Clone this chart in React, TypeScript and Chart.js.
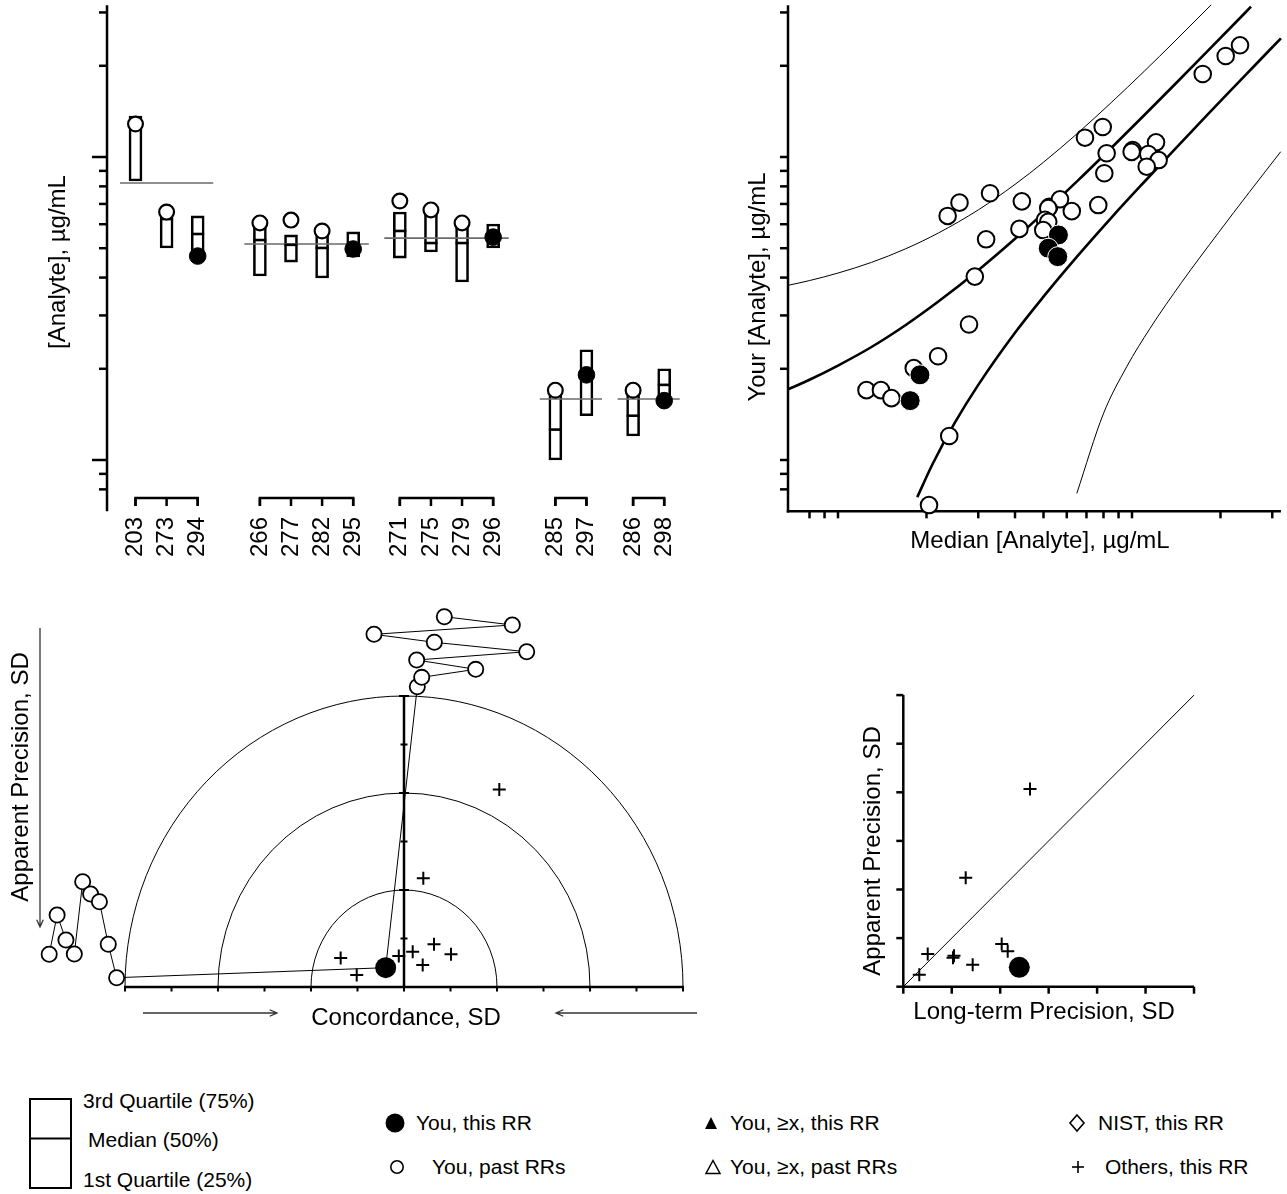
import React, { useEffect, useRef } from "react";
import { Chart, registerables } from "chart.js";

Chart.register(...registerables);

const FONT_FAMILY = '"Liberation Sans", Arial, Helvetica, sans-serif';
const AXIS_FONT = `24px ${FONT_FAMILY}`;

// ================= Panel 1 : box plots per lab =================
const labGroups: string[][] = [
  ["203", "273", "294"],
  ["266", "277", "282", "295"],
  ["271", "275", "279", "296"],
  ["285", "297"],
  ["286", "298"],
];
const q1Values = [8.33, 5.01, 4.86, 4.05, 4.5, 3.99, 4.68, 4.64, 4.86, 3.87, 5.01, 1.0, 1.4, 1.2, 1.52];
const medianValues = [12.85, 6.24, 5.57, 5.32, 5.13, 5.01, 5.13, 5.7, 5.2, 5.2, 5.49, 1.26, 1.91, 1.4, 1.77];
const q3Values = [13.65, 6.84, 6.39, 5.92, 5.53, 5.57, 5.66, 6.58, 6.53, 5.92, 6.01, 1.66, 2.31, 1.66, 2.0];
const yourValues = [12.85, 6.58, 4.71, 6.06, 6.19, 5.7, 4.97, 7.16, 6.69, 6.06, 5.44, 1.7, 1.91, 1.7, 1.57];
const thisRoundLabs = ["294", "295", "296", "297", "298"];
const consensusValues = [8.21, 5.16, 5.4, 1.59, 1.59];
const logMajorTicks = [1, 10];
const logMinorTicks = [0.8, 0.9, 2, 3, 4, 5, 6, 7, 8, 9, 20, 30];
const logAxisRange = [0.677, 31.7];

// ================= Panel 2 : your value vs median =================
const pastMedians = [2.36, 2.59, 3.29, 4.22, 3.19, 4.14, 2.92, 5.23, 5.69, 6.24, 5.19, 5.06, 5.19, 4.99, 7.68, 6.92, 7.95, 8.2, 8.05, 10.05, 9.97, 12.07, 11.36, 12.32, 11.22, 17.4, 20.83, 23.3, 1.25, 1.4, 1.52, 1.81, 2.19, 2.79, 2.39, 2.04];
const pastYours = [6.39, 7.07, 7.59, 7.14, 5.35, 5.79, 4.03, 6.85, 7.25, 6.63, 6.78, 6.2, 6.11, 5.74, 6.94, 11.58, 12.56, 10.29, 8.84, 10.55, 10.4, 11.18, 10.23, 9.77, 9.29, 18.79, 21.54, 23.37, 1.7, 1.7, 1.6, 2.01, 2.2, 2.8, 1.2, 0.71];
const thisMedians = [5.62, 5.19, 5.59, 1.9, 1.76];
const thisYours = [5.53, 5.0, 4.69, 1.91, 1.57];
const upperThickX = [0.676, 0.8, 1, 1.3, 1.7, 2.2, 3, 4, 5, 6.5, 8.5, 11, 14, 18, 22, 25.4];
const upperThickY = [1.71, 1.84, 2.05, 2.36, 2.79, 3.34, 4.23, 5.37, 6.54, 8.31, 10.71, 13.73, 17.38, 22.26, 27.16, 31.34];
const lowerThickX = [1.86, 2.1, 2.5, 3, 4, 5, 6.5, 8.5, 11, 14, 18, 22, 26, 32.1];
const lowerThickY = [0.754, 0.972, 1.33, 1.77, 2.63, 3.46, 4.69, 6.3, 8.27, 10.62, 13.74, 16.84, 19.93, 24.65];
const upperThinX = [0.676, 0.8, 1, 1.3, 1.7, 2.2, 3, 4, 5, 6.5, 8.5, 11, 14, 18.6];
const upperThinY = [3.77, 3.91, 4.14, 4.49, 4.98, 5.62, 6.69, 8.12, 9.61, 11.93, 15.12, 19.18, 24.13, 31.79];
const lowerThinX = [6.49, 7.99, 9.59, 11.52, 14.76, 19.72, 25, 32.05];
const lowerThinY = [0.776, 1.42, 2.03, 2.72, 3.86, 5.64, 7.63, 10.41];
const logTickValues = [0.8, 0.9, 1, 2, 3, 4, 5, 6, 7, 8, 9, 10, 20, 30];
const p2XAxisRange = [0.676, 32.1];

// ================= Panels 3 & 4 : precision =================
const othersApparent = [4.07, 2.24, 0.674, 0.639, 0.598, 0.454, 0.88, 0.728, 0.247];
const othersConcordance = [2.049, 0.415, 1.011, -0.112, -1.362, 0.402, 0.645, 0.187, -1.017];
const othersLongTerm = [2.615, 1.288, 0.504, 1.046, 1.026, 1.432, 2.031, 2.155, 0.33];
const youApparent = 0.398;
const youConcordance = -0.394;
const youLongTerm = 2.394;
const pastLeftConcordance = [-7.63, -7.46, -7.27, -7.09, -6.91, -6.74, -6.55, -6.36, -6.18];
const pastLeftApparent = [0.674, 1.485, 0.969, 0.68, 2.171, 1.918, 1.759, 0.88, 0.192];
const pastTopConcordance = [0.286, 0.381, 1.542, 0.273, 2.639, 0.652, -0.645, 2.329, 0.867];
const pastTopApparent = [6.19, 6.385, 6.55, 6.742, 6.913, 7.107, 7.272, 7.464, 7.635];
const arcRadii = [2, 4, 6];
const concordanceTicks = [-6, -5, -4, -3, -2, -1, 0, 1, 2, 3, 4, 5, 6];
const apparentTicks = [1, 2, 3, 4, 5, 6];
const precisionTicks = [0, 1, 2, 3, 4, 5, 6];
const identityLine = [0, 6];

// ================= Layout (page pixel calibration) =================
type Geo = { left: number; top: number; width: number; height: number };
const P1_GEO: Geo = { left: 0, top: 0, width: 720, height: 580 };
const P2_GEO: Geo = { left: 720, top: 0, width: 567, height: 580 };
const P3_GEO: Geo = { left: 0, top: 580, width: 720, height: 470 };
const P4_GEO: Geo = { left: 720, top: 580, width: 567, height: 470 };
const P1_X_ORIGIN = 135.5, P1_X_UNIT = 31.1, P1_AXIS_X = -0.916;
const LOG_Y_ONE = 460, LOG_Y_DECADE = 303;
const P2_X_ONE = 838, P2_X_DECADE = 294;
const P3_X_ZERO = 404, P3_X_UNIT = 46.5, P3_Y_ZERO = 987, P3_Y_UNIT = 48.5;
const P4_X_ZERO = 903.3, P4_X_UNIT = 48.45, P4_Y_ZERO = 986.7, P4_Y_UNIT = 48.6;

const linX = (g: Geo, z: number, u: number) => ({ min: (g.left - z) / u, max: (g.left + g.width - z) / u });
const linY = (g: Geo, z: number, u: number) => ({ min: (z - g.top - g.height) / u, max: (z - g.top) / u });
const logX = (g: Geo, one: number, d: number) => ({ min: 10 ** ((g.left - one) / d), max: 10 ** ((g.left + g.width - one) / d) });
const logY = (g: Geo, one: number, d: number) => ({ min: 10 ** ((one - g.top - g.height) / d), max: 10 ** ((one - g.top) / d) });

// ================= Drawing helpers =================
function seg(ctx: CanvasRenderingContext2D, x1: number, y1: number, x2: number, y2: number, w: number, color = "#000") {
  ctx.save();
  ctx.beginPath();
  ctx.moveTo(x1, y1);
  ctx.lineTo(x2, y2);
  ctx.lineWidth = w;
  ctx.strokeStyle = color;
  ctx.stroke();
  ctx.restore();
}

function txt(ctx: CanvasRenderingContext2D, s: string, x: number, y: number, rotate = false, align: CanvasTextAlign = "center") {
  ctx.save();
  ctx.font = AXIS_FONT;
  ctx.fillStyle = "#000";
  ctx.textAlign = align;
  ctx.textBaseline = "middle";
  ctx.translate(x, y);
  if (rotate) ctx.rotate(-Math.PI / 2);
  ctx.fillText(s, 0, 0);
  ctx.restore();
}

function arrow(ctx: CanvasRenderingContext2D, x1: number, y1: number, x2: number, y2: number) {
  const a = Math.atan2(y2 - y1, x2 - x1);
  const L = 8, W = 0.42;
  ctx.save();
  ctx.strokeStyle = "#333";
  ctx.lineWidth = 1.3;
  ctx.beginPath();
  ctx.moveTo(x1, y1);
  ctx.lineTo(x2, y2);
  ctx.moveTo(x2 - L * Math.cos(a - W), y2 - L * Math.sin(a - W));
  ctx.lineTo(x2, y2);
  ctx.lineTo(x2 - L * Math.cos(a + W), y2 - L * Math.sin(a + W));
  ctx.stroke();
  ctx.restore();
}

function baseOptions(xs: any, ys: any) {
  return {
    responsive: false,
    maintainAspectRatio: false,
    animation: false,
    events: [],
    layout: { padding: 0, autoPadding: false },
    plugins: { legend: { display: false }, tooltip: { enabled: false }, title: { display: false } },
    scales: {
      x: { ...xs, display: false, bounds: "data", offset: false },
      y: { ...ys, display: false, bounds: "data", offset: false },
    },
  };
}

// ================= Panel 1 config =================
const labIds = labGroups.flat();
const labPos: number[] = [];
const groupSpans: [number, number][] = [];
{
  const groupGaps = [2, 1.5, 2, 1.5];
  let p = 0;
  labGroups.forEach((g, gi) => {
    const start = p;
    g.forEach(() => {
      labPos.push(p);
      p += 1;
    });
    groupSpans.push([start, p - 1]);
    p += (groupGaps[gi] ?? 0) - 1;
  });
}

function panel1Config() {
  const isThis = labIds.map((l) => thisRoundLabs.includes(l));
  const refData: any[] = [];
  groupSpans.forEach(([a, b], gi) => {
    refData.push({ x: a - 0.5, y: consensusValues[gi] });
    refData.push({ x: b + 0.5, y: consensusValues[gi] });
    refData.push({ x: b + 0.6, y: null });
  });
  const plugin = {
    id: "p1deco",
    beforeDatasetsDraw(chart: any) {
      const { ctx } = chart;
      const { x, y } = chart.scales;
      const ax = x.getPixelForValue(P1_AXIS_X);
      seg(ctx, ax, y.getPixelForValue(logAxisRange[1]), ax, y.getPixelForValue(logAxisRange[0]), 2.5);
      logMinorTicks.forEach((v) => {
        const py = y.getPixelForValue(v);
        seg(ctx, ax - 8, py, ax, py, 2.5);
      });
      logMajorTicks.forEach((v) => {
        const py = y.getPixelForValue(v);
        seg(ctx, ax - 15, py, ax, py, 2.5);
      });
      const BY = 498 - P1_GEO.top;
      ctx.save();
      ctx.strokeStyle = "#000";
      ctx.lineWidth = 2.5;
      groupSpans.forEach(([a, b]) => {
        const xa = x.getPixelForValue(a), xb = x.getPixelForValue(b);
        ctx.beginPath();
        ctx.moveTo(xa, BY + 8);
        ctx.lineTo(xa, BY);
        ctx.lineTo(xb, BY);
        ctx.lineTo(xb, BY + 8);
        ctx.stroke();
      });
      labPos.forEach((p) => {
        const px = x.getPixelForValue(p);
        seg(ctx, px, BY, px, BY + 8, 2.5);
      });
      ctx.restore();
    },
    afterDatasetsDraw(chart: any) {
      const { ctx } = chart;
      const { x } = chart.scales;
      labIds.forEach((l, i) => {
        txt(ctx, l, x.getPixelForValue(labPos[i]), 517 - P1_GEO.top, true, "right");
      });
      txt(ctx, "[Analyte], µg/mL", 58 - P1_GEO.left, 262 - P1_GEO.top, true);
    },
  };
  return {
    type: "bar",
    data: {
      datasets: [
        {
          type: "bar",
          label: "Quartiles",
          data: labPos.map((x, i) => ({ x, y: [q1Values[i], q3Values[i]] })),
          backgroundColor: "#fff",
          borderColor: "#000",
          borderWidth: 2.6,
          borderSkipped: false,
          barThickness: 13,
          order: 5,
        },
        {
          type: "line",
          label: "Consensus",
          data: refData,
          borderColor: "#6b6b6b",
          borderWidth: 1.6,
          pointRadius: 0,
          showLine: true,
          spanGaps: false,
          order: 4,
        },
        {
          type: "scatter",
          label: "Median",
          data: labPos.map((x, i) => ({ x, y: medianValues[i] })),
          pointStyle: "line",
          pointRadius: 6.5,
          pointBorderColor: "#000",
          pointBorderWidth: 2.6,
          showLine: false,
          order: 3,
        },
        {
          type: "scatter",
          label: "You, past RRs",
          data: labPos.map((x, i) => ({ x, y: yourValues[i] })).filter((_, i) => !isThis[i]),
          pointRadius: 7.4,
          pointBackgroundColor: "#fff",
          pointBorderColor: "#000",
          pointBorderWidth: 2.2,
          showLine: false,
          order: 2,
        },
        {
          type: "scatter",
          label: "You, this RR",
          data: labPos.map((x, i) => ({ x, y: yourValues[i] })).filter((_, i) => isThis[i]),
          pointRadius: 8.3,
          pointBackgroundColor: "#000",
          pointBorderColor: "#000",
          pointBorderWidth: 1,
          showLine: false,
          order: 1,
        },
      ],
    },
    options: baseOptions(
      { type: "linear", ...linX(P1_GEO, P1_X_ORIGIN, P1_X_UNIT) },
      { type: "logarithmic", ...logY(P1_GEO, LOG_Y_ONE, LOG_Y_DECADE) }
    ),
    plugins: [plugin],
  };
}

// ================= Panel 2 config =================
function curve(xs: number[], ys: number[], width: number, label: string) {
  return {
    type: "line",
    label,
    data: xs.map((x, i) => ({ x, y: ys[i] })),
    borderColor: "#000",
    borderWidth: width,
    pointRadius: 0,
    showLine: true,
    cubicInterpolationMode: "monotone",
    order: 4,
  };
}

function panel2Config() {
  const plugin = {
    id: "p2deco",
    beforeDatasetsDraw(chart: any) {
      const { ctx } = chart;
      const { x, y } = chart.scales;
      const ax = x.getPixelForValue(p2XAxisRange[0]);
      const ay = y.getPixelForValue(logAxisRange[0]);
      seg(ctx, ax, y.getPixelForValue(logAxisRange[1]), ax, ay + 1.25, 2.5);
      seg(ctx, ax - 1.25, ay, x.getPixelForValue(p2XAxisRange[1]), ay, 2.5);
      logTickValues.forEach((v) => {
        const py = y.getPixelForValue(v);
        seg(ctx, ax - 8, py, ax, py, 2.5);
        const px = x.getPixelForValue(v);
        seg(ctx, px, ay, px, ay + 7, 2.5);
      });
    },
    afterDatasetsDraw(chart: any) {
      const { ctx } = chart;
      txt(ctx, "Your [Analyte], µg/mL", 758 - P2_GEO.left, 287 - P2_GEO.top, true);
      txt(ctx, "Median [Analyte], µg/mL", 1040 - P2_GEO.left, 541 - P2_GEO.top);
    },
  };
  return {
    type: "scatter",
    data: {
      datasets: [
        curve(upperThinX, upperThinY, 1, "Upper outer limit"),
        curve(lowerThinX, lowerThinY, 1, "Lower outer limit"),
        curve(upperThickX, upperThickY, 2.6, "Upper limit"),
        curve(lowerThickX, lowerThickY, 2.6, "Lower limit"),
        {
          type: "scatter",
          label: "You, past RRs",
          data: pastMedians.map((x, i) => ({ x, y: pastYours[i] })),
          pointRadius: 8.3,
          pointBackgroundColor: "#fff",
          pointBorderColor: "#000",
          pointBorderWidth: 2,
          showLine: false,
          order: 2,
        },
        {
          type: "scatter",
          label: "You, this RR",
          data: thisMedians.map((x, i) => ({ x, y: thisYours[i] })),
          pointRadius: 10,
          pointBackgroundColor: "#000",
          pointBorderColor: "#fff",
          pointBorderWidth: 1,
          showLine: false,
          order: 1,
        },
      ],
    },
    options: baseOptions(
      { type: "logarithmic", ...logX(P2_GEO, P2_X_ONE, P2_X_DECADE) },
      { type: "logarithmic", ...logY(P2_GEO, LOG_Y_ONE, LOG_Y_DECADE) }
    ),
    plugins: [plugin],
  };
}

// ================= Panel 3 config =================
function panel3Config() {
  const leftData = pastLeftConcordance.map((x, i) => ({ x, y: pastLeftApparent[i] }));
  leftData.push({ x: youConcordance, y: youApparent });
  const topData = [{ x: youConcordance, y: youApparent }].concat(
    pastTopConcordance.map((x, i) => ({ x, y: pastTopApparent[i] }))
  );
  const nLeft = leftData.length - 1;
  const plugin = {
    id: "p3deco",
    beforeDatasetsDraw(chart: any) {
      const { ctx } = chart;
      const { x, y } = chart.scales;
      const cx = x.getPixelForValue(0), cy = y.getPixelForValue(0);
      ctx.save();
      ctx.strokeStyle = "#000";
      ctx.lineWidth = 1;
      arcRadii.forEach((r) => {
        const rx = x.getPixelForValue(r) - cx;
        const ry = cy - y.getPixelForValue(r);
        ctx.beginPath();
        ctx.ellipse(cx, cy, rx, ry, 0, Math.PI, 2 * Math.PI);
        ctx.stroke();
      });
      ctx.restore();
      const xl = x.getPixelForValue(concordanceTicks[0]);
      const xr = x.getPixelForValue(concordanceTicks[concordanceTicks.length - 1]);
      seg(ctx, xl - 1, cy, xr + 1, cy, 2.5);
      concordanceTicks.forEach((v) => {
        const px = x.getPixelForValue(v);
        seg(ctx, px, cy, px, cy + 4.5, 2);
      });
      const top = y.getPixelForValue(apparentTicks[apparentTicks.length - 1]);
      seg(ctx, cx, cy, cx, top, 2.5);
      apparentTicks.forEach((v) => {
        const py = y.getPixelForValue(v);
        const w = v % 2 === 0 ? 5 : 3.5;
        seg(ctx, cx - w, py, cx + w, py, 2);
      });
    },
    afterDatasetsDraw(chart: any) {
      const { ctx } = chart;
      const ox = P3_GEO.left, oy = P3_GEO.top;
      txt(ctx, "Apparent Precision, SD", 21 - ox, 777 - oy, true);
      txt(ctx, "Concordance, SD", 406 - ox, 1018 - oy);
      arrow(ctx, 40 - ox, 628 - oy, 40 - ox, 927 - oy);
      arrow(ctx, 143 - ox, 1013 - oy, 277 - ox, 1013 - oy);
      arrow(ctx, 697 - ox, 1013 - oy, 556 - ox, 1013 - oy);
    },
  };
  return {
    type: "scatter",
    data: {
      datasets: [
        {
          type: "line",
          label: "You, past RRs (a)",
          data: leftData,
          borderColor: "#000",
          borderWidth: 1,
          showLine: true,
          pointRadius: (c: any) => (c.dataIndex === nLeft ? 0 : 7.6),
          pointBackgroundColor: "#fff",
          pointBorderColor: "#000",
          pointBorderWidth: 1.8,
          order: 4,
        },
        {
          type: "line",
          label: "You, past RRs (b)",
          data: topData,
          borderColor: "#000",
          borderWidth: 1,
          showLine: true,
          pointRadius: (c: any) => (c.dataIndex === 0 ? 0 : 7.6),
          pointBackgroundColor: "#fff",
          pointBorderColor: "#000",
          pointBorderWidth: 1.8,
          order: 3,
        },
        {
          type: "scatter",
          label: "Others, this RR",
          data: othersConcordance.map((x, i) => ({ x, y: othersApparent[i] })),
          pointStyle: "cross",
          pointRadius: 6.5,
          pointBorderColor: "#000",
          pointBorderWidth: 2,
          showLine: false,
          order: 2,
        },
        {
          type: "scatter",
          label: "You, this RR",
          data: [{ x: youConcordance, y: youApparent }],
          pointRadius: 10.5,
          pointBackgroundColor: "#000",
          pointBorderColor: "#000",
          pointBorderWidth: 0,
          showLine: false,
          order: 1,
        },
      ],
    },
    options: baseOptions(
      { type: "linear", ...linX(P3_GEO, P3_X_ZERO, P3_X_UNIT) },
      { type: "linear", ...linY(P3_GEO, P3_Y_ZERO, P3_Y_UNIT) }
    ),
    plugins: [plugin],
  };
}

// ================= Panel 4 config =================
function panel4Config() {
  const plugin = {
    id: "p4deco",
    beforeDatasetsDraw(chart: any) {
      const { ctx } = chart;
      const { x, y } = chart.scales;
      const x0 = x.getPixelForValue(0), y0 = y.getPixelForValue(0);
      const last = precisionTicks[precisionTicks.length - 1];
      seg(ctx, x0, y.getPixelForValue(last), x0, y0 + 1.25, 2.5);
      seg(ctx, x0 - 1.25, y0, x.getPixelForValue(last), y0, 2.5);
      precisionTicks.forEach((v) => {
        const py = y.getPixelForValue(v);
        seg(ctx, x0 - 7, py, x0, py, 2.5);
        const px = x.getPixelForValue(v);
        seg(ctx, px, y0, px, y0 + 7, 2.5);
      });
    },
    afterDatasetsDraw(chart: any) {
      const { ctx } = chart;
      const ox = P4_GEO.left, oy = P4_GEO.top;
      txt(ctx, "Apparent Precision, SD", 873 - ox, 851 - oy, true);
      txt(ctx, "Long-term Precision, SD", 1044 - ox, 1012 - oy);
    },
  };
  return {
    type: "scatter",
    data: {
      datasets: [
        {
          type: "line",
          label: "Identity",
          data: identityLine.map((v) => ({ x: v, y: v })),
          borderColor: "#000",
          borderWidth: 1,
          pointRadius: 0,
          showLine: true,
          order: 3,
        },
        {
          type: "scatter",
          label: "Others, this RR",
          data: othersLongTerm.map((x, i) => ({ x, y: othersApparent[i] })),
          pointStyle: "cross",
          pointRadius: 6.5,
          pointBorderColor: "#000",
          pointBorderWidth: 2,
          showLine: false,
          order: 2,
        },
        {
          type: "scatter",
          label: "You, this RR",
          data: [{ x: youLongTerm, y: youApparent }],
          pointRadius: 10.5,
          pointBackgroundColor: "#000",
          pointBorderColor: "#000",
          pointBorderWidth: 0,
          showLine: false,
          order: 1,
        },
      ],
    },
    options: baseOptions(
      { type: "linear", ...linX(P4_GEO, P4_X_ZERO, P4_X_UNIT) },
      { type: "linear", ...linY(P4_GEO, P4_Y_ZERO, P4_Y_UNIT) }
    ),
    plugins: [plugin],
  };
}

// ================= Components =================
function ChartPanel({ geo, makeConfig }: { geo: Geo; makeConfig: () => any }) {
  const ref = useRef<HTMLCanvasElement>(null);
  useEffect(() => {
    const chart = new Chart(ref.current as HTMLCanvasElement, makeConfig());
    return () => chart.destroy();
  }, []);
  return (
    <canvas
      ref={ref}
      width={geo.width}
      height={geo.height}
      style={{ position: "absolute", left: geo.left, top: geo.top, width: geo.width, height: geo.height }}
    />
  );
}

const LEGEND_SIZE = 21;
function LegendText({ s, left, cy }: { s: string; left: number; cy: number }) {
  return (
    <div
      style={{
        position: "absolute",
        left,
        top: cy - LEGEND_SIZE * 0.6,
        fontFamily: FONT_FAMILY,
        fontSize: LEGEND_SIZE,
        lineHeight: `${LEGEND_SIZE * 1.2}px`,
        whiteSpace: "nowrap",
        color: "#000",
      }}
    >
      {s}
    </div>
  );
}

function Legend() {
  return (
    <>
      <svg
        width={1287}
        height={114}
        style={{ position: "absolute", left: 0, top: 1080 }}
        viewBox="0 1080 1287 114"
      >
        <rect x={30} y={1099} width={41} height={89} fill="#fff" stroke="#000" strokeWidth={2} />
        <line x1={30} y1={1138.5} x2={71} y2={1138.5} stroke="#000" strokeWidth={2} />
        <circle cx={395} cy={1123} r={9.5} fill="#000" />
        <circle cx={397} cy={1167} r={6.2} fill="#fff" stroke="#000" strokeWidth={1.6} />
        <polygon points="705,1129 717,1129 711,1117" fill="#000" />
        <polygon points="706,1173.5 720,1173.5 713,1160.5" fill="none" stroke="#000" strokeWidth={1.5} />
        <polygon points="1077,1115 1084,1123 1077,1131 1070,1123" fill="none" stroke="#000" strokeWidth={1.6} />
        <line x1={1072} y1={1167} x2={1084} y2={1167} stroke="#000" strokeWidth={1.6} />
        <line x1={1078} y1={1161} x2={1078} y2={1173} stroke="#000" strokeWidth={1.6} />
      </svg>
      <LegendText s="3rd Quartile (75%)" left={83} cy={1101} />
      <LegendText s="Median (50%)" left={88} cy={1140} />
      <LegendText s="1st Quartile (25%)" left={83} cy={1180} />
      <LegendText s="You, this RR" left={416} cy={1123} />
      <LegendText s="You, past RRs" left={432} cy={1167} />
      <LegendText s="You, ≥x, this RR" left={730} cy={1123} />
      <LegendText s="You, ≥x, past RRs" left={730} cy={1167} />
      <LegendText s="NIST, this RR" left={1098} cy={1123} />
      <LegendText s="Others, this RR" left={1105} cy={1167} />
    </>
  );
}

export default function App() {
  return (
    <div
      style={{
        position: "absolute",
        left: 0,
        top: 0,
        width: 1287,
        height: 1194,
        background: "#fff",
        overflow: "hidden",
      }}
    >
      <ChartPanel geo={P1_GEO} makeConfig={panel1Config} />
      <ChartPanel geo={P2_GEO} makeConfig={panel2Config} />
      <ChartPanel geo={P3_GEO} makeConfig={panel3Config} />
      <ChartPanel geo={P4_GEO} makeConfig={panel4Config} />
      <Legend />
    </div>
  );
}
